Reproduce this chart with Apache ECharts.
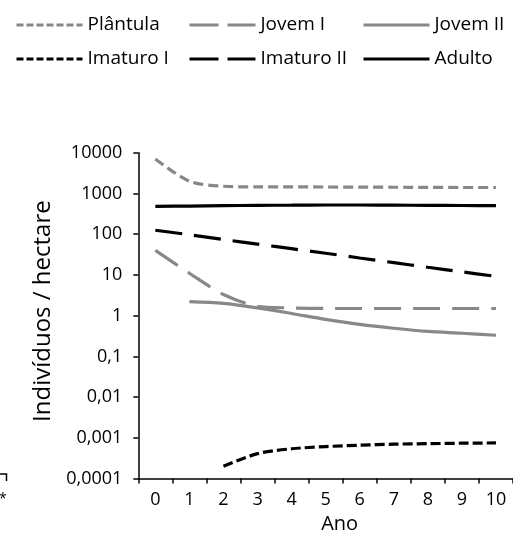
<!DOCTYPE html>
<html>
<head>
<meta charset="utf-8">
<script src="https://cdn.jsdelivr.net/npm/echarts@6/dist/echarts.min.js"></script>
<style>
  html, body { margin: 0; padding: 0; background: #fff; }
  #chart { width: 513px; height: 550px; }
</style>
</head>
<body>
<div id="chart"></div>
<script>
// Years after the start of the projection
const years = ['0', '1', '2', '3', '4', '5', '6', '7', '8', '9', '10'];

// Density (individuals per hectare) for each life stage
const plantula  = [7000, 2000, 1500, 1450, 1450, 1440, 1430, 1420, 1410, 1400, 1400];
const jovemI    = [40, 11, 3.3, 1.7, 1.55, 1.5, 1.5, 1.5, 1.5, 1.5, 1.5];
const jovemII   = [null, 2.2, 2.0, 1.55, 1.13, 0.81, 0.61, 0.49, 0.41, 0.37, 0.33];
const imaturoI  = [null, null, 0.0002, 0.00041, 0.00054, 0.00061, 0.00066, 0.0007, 0.00072, 0.00074, 0.00075];
const imaturoII = [125, 97, 74, 57, 44, 34, 26, 20, 15.4, 11.9, 9.2];
const adulto    = [480, 490, 500, 510, 515, 520, 520, 515, 510, 505, 500];

// Log-axis tick labels, decimal comma
const yTickLabels = ['0,0001', '0,001', '0,01', '0,1', '1', '10', '100', '1000', '10000'];

const GRAY = '#888888';
const BLACK = '#000000';
const FONT = '"Open Sans", sans-serif';

const seriesDefs = [
  { name: 'Plântula',   data: plantula,  color: GRAY,  dash: [10, 5],  legendDash: [7, 3] },
  { name: 'Jovem I',    data: jovemI,    color: GRAY,  dash: [27, 12], legendDash: [29, 9] },
  { name: 'Jovem II',   data: jovemII,   color: GRAY,  dash: 'solid',  legendDash: 'solid' },
  { name: 'Imaturo I',  data: imaturoI,  color: BLACK, dash: [10, 4],  legendDash: [7, 3] },
  { name: 'Imaturo II', data: imaturoII, color: BLACK, dash: [27, 12], legendDash: [29, 9] },
  { name: 'Adulto',     data: adulto,    color: BLACK, dash: 'solid',  legendDash: 'solid' }
];

function legendItem(d) {
  return {
    name: d.name,
    itemStyle: { opacity: 0 },
    lineStyle: { type: d.legendDash, width: 3, color: d.color, cap: 'butt' }
  };
}

function legendColumn(defs, left) {
  return {
    orient: 'vertical',
    left: left,
    top: 14,
    padding: 0,
    itemWidth: 66,
    itemHeight: 14,
    itemGap: 12,
    selectedMode: false,
    textStyle: { fontFamily: FONT, fontSize: 19, color: '#000', lineHeight: 22 },
    data: defs.map(legendItem)
  };
}

const chart = echarts.init(document.getElementById('chart'), null, { renderer: 'canvas' });

chart.setOption({
  animation: false,
  backgroundColor: '#fff',
  legend: [
    legendColumn([seriesDefs[0], seriesDefs[3]], 15),
    legendColumn([seriesDefs[1], seriesDefs[4]], 188),
    legendColumn([seriesDefs[2], seriesDefs[5]], 362)
  ],
  grid: { left: 138.3, top: 152.7, width: 376.2, height: 325.9, containLabel: false },
  xAxis: {
    type: 'category',
    data: years,
    boundaryGap: true,
    name: 'Ano',
    nameLocation: 'middle',
    nameGap: 36,
    nameTextStyle: { fontFamily: FONT, fontSize: 20, color: '#000', padding: [0, 0, 0, 28] },
    axisLine: { lineStyle: { color: '#000', width: 1.5 } },
    axisTick: { show: true, alignWithLabel: false, inside: false, length: 5, lineStyle: { color: '#000', width: 1.5 } },
    axisLabel: { fontFamily: FONT, fontSize: 18, color: '#000', margin: 12, interval: 0 },
    splitLine: { show: false }
  },
  yAxis: {
    type: 'log',
    logBase: 10,
    min: 0.0001,
    max: 10000,
    splitNumber: 8,
    name: 'Indivíduos / hectare',
    nameLocation: 'middle',
    nameGap: 75,
    nameTextStyle: { fontFamily: FONT, fontSize: 24, color: '#000', padding: [0, 0, 0, 9] },
    axisLine: { show: true, lineStyle: { color: '#000', width: 1.5 } },
    axisTick: { show: true, inside: false, length: 5, lineStyle: { color: '#000', width: 1.5 } },
    axisLabel: {
      fontFamily: FONT, fontSize: 18, color: '#000', margin: 16,
      formatter: function (v) {
        const e = Math.round(Math.log10(v));
        return yTickLabels[e + 4];
      }
    },
    splitLine: { show: false }
  },
  series: seriesDefs.map(function (d) {
    return {
      name: d.name,
      type: 'line',
      data: d.data,
      smooth: 0.3,
      symbol: 'none',
      connectNulls: false,
      lineStyle: { color: d.color, width: 3.2, type: d.dash, cap: 'butt' },
      itemStyle: { color: d.color },
      emphasis: { disabled: true }
    };
  }),
  graphic: [
    {
      type: 'polyline',
      shape: { points: [[0, 474], [6.5, 474], [6.5, 481]] },
      style: { stroke: '#000', lineWidth: 1.5, fill: null }
    },
    {
      type: 'text',
      left: -1, top: 492,
      style: { text: '*', fontFamily: FONT, fontSize: 14, fill: '#000' }
    }
  ]
});
</script>
</body>
</html>
